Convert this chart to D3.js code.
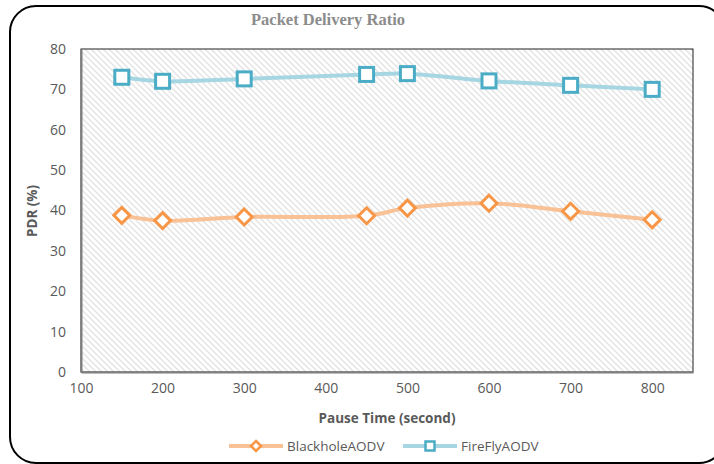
<!DOCTYPE html>
<html>
<head>
<meta charset="utf-8">
<script src="https://cdn.jsdelivr.net/npm/d3@7"></script>
<style>
  body { margin: 0; background: #fff; }
  svg { display: block; }
</style>
</head>
<body>
<svg id="chart" width="714" height="464"></svg>
<script>
// data
const pauseTimes = [150, 200, 300, 450, 500, 600, 700, 800];
const blackhole = [38.8, 37.5, 38.4, 38.7, 40.6, 41.8, 39.8, 37.7];
const firefly = [73.0, 72.0, 72.6, 73.7, 73.9, 72.1, 71.0, 70.0];
const xTicks = [100, 200, 300, 400, 500, 600, 700, 800];
const yTicks = [0, 10, 20, 30, 40, 50, 60, 70, 80];
const seriesNames = ["BlackholeAODV", "FireFlyAODV"];

const svg = d3.select("#chart");
const plot = { left: 81, right: 693, top: 49, bottom: 372 };

const x = d3.scaleLinear().domain([100, 850]).range([plot.left, plot.right]);
const y = d3.scaleLinear().domain([0, 80]).range([plot.bottom, plot.top]);

// outer card
svg.append("rect")
    .attr("x", 10).attr("y", 6)
    .attr("width", 715).attr("height", 457)
    .attr("rx", 26).attr("ry", 26)
    .attr("fill", "#fff")
    .attr("stroke", "#000")
    .attr("stroke-width", 2);

// hatch pattern
const defs = svg.append("defs");
const pat = defs.append("pattern")
    .attr("id", "hatch")
    .attr("patternUnits", "userSpaceOnUse")
    .attr("width", 6).attr("height", 6);
pat.append("rect").attr("width", 6).attr("height", 6).attr("fill", "#fff");
pat.append("path")
    .attr("d", "M-1,-1 L7,7 M-1,5 L1,7 M5,-1 L7,1")
    .attr("stroke", "#e2e2e2")
    .attr("stroke-width", 1.3);

svg.append("rect")
    .attr("x", plot.left).attr("y", plot.top)
    .attr("width", plot.right - plot.left)
    .attr("height", plot.bottom - plot.top)
    .attr("fill", "url(#hatch)")
    .attr("stroke", "#222")
    .attr("stroke-width", 1);

// axes
const xAxis = svg.append("g")
    .attr("transform", `translate(0,${plot.bottom})`)
    .call(d3.axisBottom(x).tickValues(xTicks).tickSize(0).tickPadding(11));
const yAxis = svg.append("g")
    .attr("transform", `translate(${plot.left},0)`)
    .call(d3.axisLeft(y).tickValues(yTicks).tickSize(0).tickPadding(15));

[xAxis, yAxis].forEach(g => {
    g.select(".domain").attr("stroke", "#7f7f7f").attr("stroke-width", 2);
    g.selectAll("text")
        .attr("fill", "#595959")
        .style("font-family", "'Open Sans', sans-serif")
        .style("font-size", "14px");
});

// title + axis titles
svg.append("text")
    .attr("x", 328).attr("y", 25)
    .attr("text-anchor", "middle")
    .attr("fill", "#8c8c8c")
    .style("font-family", "'Liberation Serif', serif")
    .style("font-weight", "bold")
    .style("font-size", "16.5px")
    .text("Packet Delivery Ratio");

svg.append("text")
    .attr("x", 387).attr("y", 423)
    .attr("text-anchor", "middle")
    .attr("fill", "#595959")
    .style("font-family", "'Open Sans', sans-serif")
    .style("font-weight", "bold")
    .style("font-size", "13.5px")
    .text("Pause Time (second)");

svg.append("text")
    .attr("transform", "translate(37,211) rotate(-90)")
    .attr("text-anchor", "middle")
    .attr("fill", "#595959")
    .style("font-family", "'Open Sans', sans-serif")
    .style("font-weight", "bold")
    .style("font-size", "13.5px")
    .text("PDR (%)");

// series
const series = [
    { name: seriesNames[0], values: blackhole, line: "#f9c196", mark: "#f79646", shape: "diamond" },
    { name: seriesNames[1], values: firefly, line: "#a7d6e3", mark: "#4bacc6", shape: "square" }
];

const line = d3.line()
    .x(d => x(d[0]))
    .y(d => y(d[1]))
    .curve(d3.curveCatmullRom.alpha(0.5));

function drawMarker(g, shape, color, cx, cy) {
    if (shape === "square") {
        g.append("rect")
            .attr("x", cx - 7).attr("y", cy - 7)
            .attr("width", 14).attr("height", 14)
            .attr("fill", "#fff")
            .attr("stroke", color)
            .attr("stroke-width", 3);
    } else {
        g.append("path")
            .attr("d", `M${cx},${cy - 8} L${cx + 8},${cy} L${cx},${cy + 8} L${cx - 8},${cy} Z`)
            .attr("fill", "#fff")
            .attr("stroke", color)
            .attr("stroke-width", 3);
    }
}

series.forEach(s => {
    const pts = pauseTimes.map((t, i) => [t, s.values[i]]);
    svg.append("path")
        .datum(pts)
        .attr("d", line)
        .attr("fill", "none")
        .attr("stroke", s.line)
        .attr("stroke-width", 4);
    const g = svg.append("g");
    pts.forEach(p => drawMarker(g, s.shape, s.mark, x(p[0]), y(p[1])));
});

// legend
const legendItems = [
    { x0: 229, s: series[0] },
    { x0: 403, s: series[1] }
];
legendItems.forEach(({ x0, s }) => {
    const ly = 446;
    svg.append("line")
        .attr("x1", x0).attr("x2", x0 + 54)
        .attr("y1", ly).attr("y2", ly)
        .attr("stroke", s.line)
        .attr("stroke-width", 4);
    const g = svg.append("g");
    if (s.shape === "square") {
        g.append("rect")
            .attr("x", x0 + 27 - 4.5).attr("y", ly - 4.5)
            .attr("width", 9).attr("height", 9)
            .attr("fill", "#fff").attr("stroke", s.mark).attr("stroke-width", 2.5);
    } else {
        g.append("path")
            .attr("d", `M${x0 + 27},${ly - 5} L${x0 + 32},${ly} L${x0 + 27},${ly + 5} L${x0 + 22},${ly} Z`)
            .attr("fill", "#fff").attr("stroke", s.mark).attr("stroke-width", 2.5);
    }
    svg.append("text")
        .attr("x", x0 + 58).attr("y", ly + 5)
        .attr("fill", "#595959")
        .style("font-family", "'Open Sans', sans-serif")
        .style("font-size", "13.5px")
        .text(s.name);
});
</script>
</body>
</html>
